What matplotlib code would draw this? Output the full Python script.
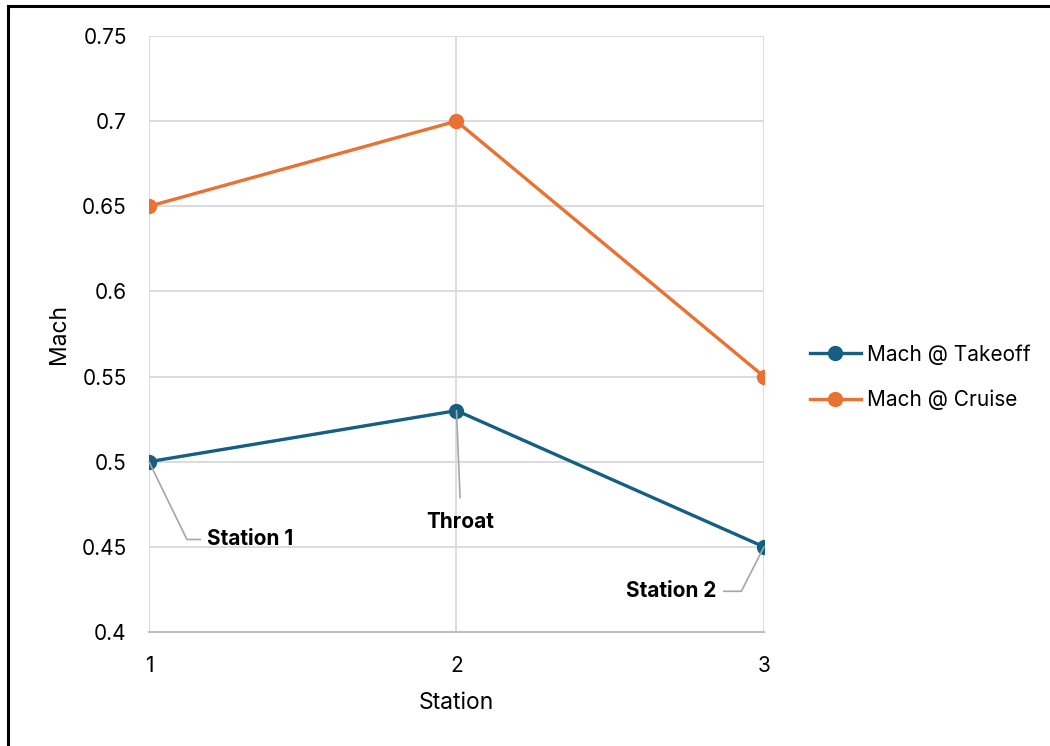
import matplotlib
matplotlib.use("Agg")
import matplotlib.pyplot as plt
from matplotlib.lines import Line2D
from matplotlib.ticker import FuncFormatter

plt.rcParams['font.family'] = ['Inter', 'DejaVu Sans']

# Mach number at each inlet station
stations = [1, 2, 3]
mach_takeoff = [0.50, 0.53, 0.45]
mach_cruise = [0.65, 0.70, 0.55]
station_names = ["Station 1", "Throat", "Station 2"]

BLUE = "#156082"
ORANGE = "#E97132"
GRID = "#d9d9d9"

fig = plt.figure(figsize=(10.5, 7.46), dpi=100)
ax = fig.add_axes([0.1419, 0.1528, 0.5857, 0.799])

ax.plot(stations, mach_takeoff, color=BLUE, lw=2.4, marker='o', ms=10,
        label="Mach @ Takeoff", zorder=3)
ax.plot(stations, mach_cruise, color=ORANGE, lw=2.4, marker='o', ms=10,
        label="Mach @ Cruise", zorder=3)

ax.set_xlim(1, 3)
ax.set_ylim(0.4, 0.75)
ax.set_xticks(stations)
ax.set_yticks([0.4, 0.45, 0.5, 0.55, 0.6, 0.65, 0.7, 0.75])
ax.yaxis.set_major_formatter(FuncFormatter(lambda v, p: f"{v:g}"))
ax.grid(True, color=GRID, lw=1.3, zorder=0)
ax.set_axisbelow(True)
for side in ["top", "right", "left"]:
    ax.spines[side].set_visible(False)
ax.spines["bottom"].set_color("#bfbfbf")
ax.spines["bottom"].set_linewidth(1.5)
ax.tick_params(length=0, labelsize=15, colors="#000000")
ax.tick_params(axis='y', pad=16)
ax.tick_params(axis='x', pad=17)
ax.set_xlabel("Station", fontsize=16.5, labelpad=12)
ax.set_ylabel("Mach", fontsize=16.5, labelpad=8)

# data labels with leader lines on the takeoff series
leader = dict(arrowstyle='-', color="#a6a6a6", lw=1.2, shrinkA=3, shrinkB=0)
ax.annotate(station_names[0], xy=(stations[0], mach_takeoff[0]),
            xytext=(42, -56), textcoords='offset points',
            fontsize=15, fontweight='bold', ha='left', va='center',
            arrowprops=dict(leader, relpos=(0, 0.5),
                            connectionstyle='angle,angleA=0,angleB=116,rad=0'))
ax.annotate(station_names[1], xy=(stations[1], mach_takeoff[1]),
            xytext=(3, -80), textcoords='offset points',
            fontsize=15, fontweight='bold', ha='center', va='center',
            arrowprops=dict(leader, relpos=(0.5, 1), shrinkA=8))
ax.annotate(station_names[2], xy=(stations[2], mach_takeoff[2]),
            xytext=(-34, -32), textcoords='offset points',
            fontsize=15, fontweight='bold', ha='right', va='center',
            arrowprops=dict(leader, relpos=(1, 0.5),
                            connectionstyle='angle,angleA=0,angleB=63,rad=0'))

fig.legend(handles=ax.get_lines(), loc='center left',
           bbox_to_anchor=(0.771, 0.4946), frameon=False, fontsize=15,
           handlelength=2.45, handletextpad=0.3, labelspacing=1.2,
           borderpad=0, borderaxespad=0)

# outer frame (top and left edges)
fig.add_artist(Line2D([0.0076, 1.0], [0.9913, 0.9913], color='black', lw=2.2,
                      transform=fig.transFigure))
fig.add_artist(Line2D([0.0076, 0.0076], [0.0, 0.9913], color='black', lw=2.2,
                      transform=fig.transFigure))

fig.savefig("out.png", dpi=100, facecolor='white')
